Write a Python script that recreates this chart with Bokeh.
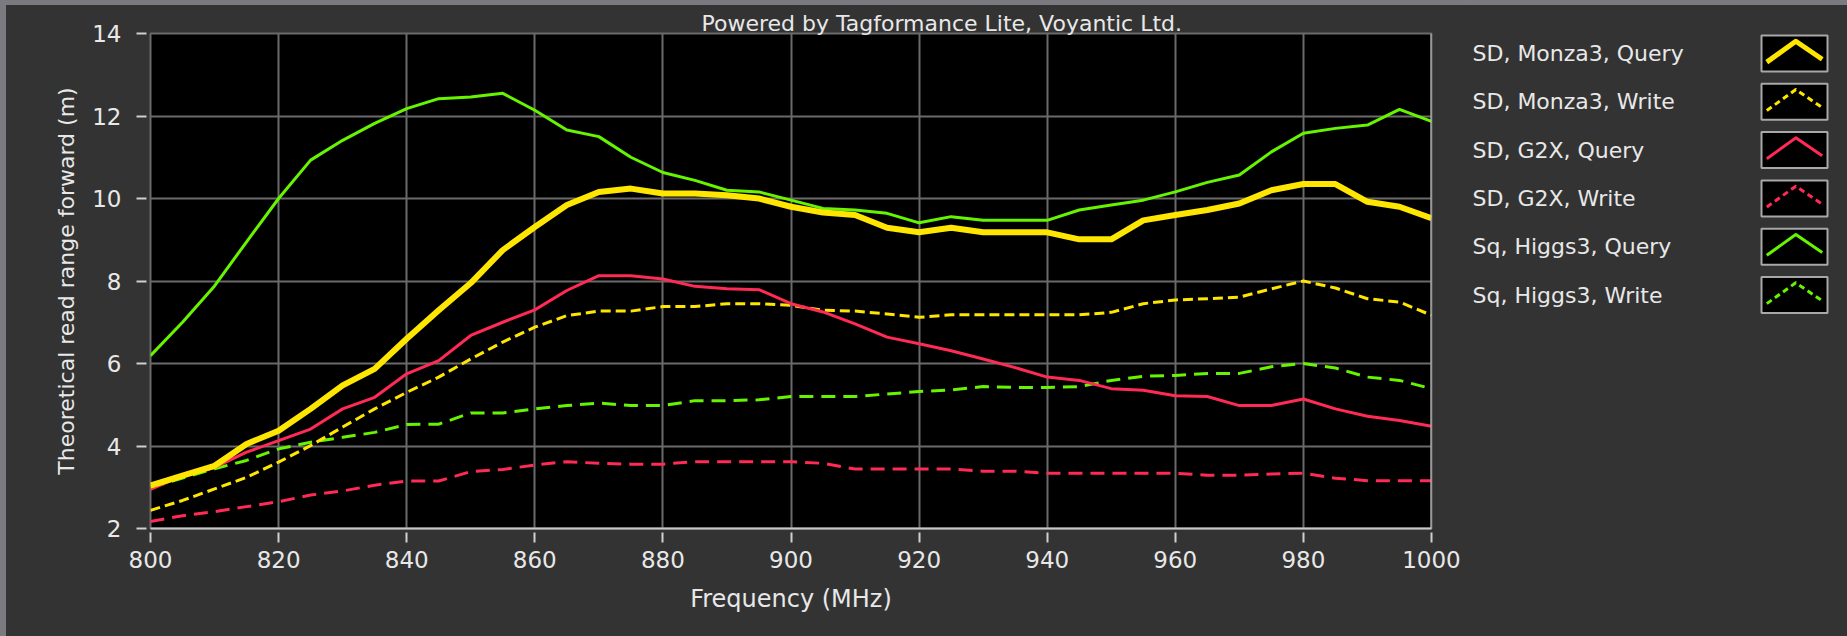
from bokeh.plotting import figure
from bokeh.models import Range1d, SingleIntervalTicker, Span, Title
from bokeh.layouts import row
from bokeh.core.properties import value
from bokeh.embed import file_html
from bokeh.resources import INLINE

# ---------------- data ----------------
freq = [800, 805, 810, 815, 820, 825, 830, 835, 840, 845,
        850, 855, 860, 865, 870, 875, 880, 885, 890, 895,
        900, 905, 910, 915, 920, 925, 930, 935, 940, 945,
        950, 955, 960, 965, 970, 975, 980, 985, 990, 995, 1000]

monza3_query = [3.04, 3.28, 3.52, 4.05, 4.37, 4.90, 5.47, 5.87, 6.60, 7.29,
                7.95, 8.75, 9.31, 9.84, 10.16, 10.24, 10.12, 10.12, 10.08, 10.00,
                9.80, 9.66, 9.60, 9.29, 9.18, 9.29, 9.18, 9.18, 9.18, 9.01,
                9.01, 9.47, 9.60, 9.72, 9.88, 10.20, 10.35, 10.35, 9.92, 9.80, 9.52]

monza3_write = [2.44, 2.68, 2.96, 3.24, 3.61, 4.01, 4.46, 4.90, 5.30, 5.67,
                6.11, 6.52, 6.88, 7.16, 7.27, 7.27, 7.38, 7.38, 7.45, 7.45,
                7.41, 7.29, 7.27, 7.20, 7.12, 7.18, 7.18, 7.18, 7.18, 7.18,
                7.24, 7.45, 7.54, 7.57, 7.61, 7.81, 8.00, 7.83, 7.57, 7.49, 7.17]

g2x_query = [2.95, 3.28, 3.48, 3.85, 4.13, 4.41, 4.90, 5.18, 5.75, 6.07,
             6.68, 7.00, 7.30, 7.77, 8.13, 8.13, 8.05, 7.87, 7.81, 7.79,
             7.45, 7.25, 6.96, 6.64, 6.48, 6.31, 6.11, 5.90, 5.67, 5.59,
             5.39, 5.35, 5.22, 5.20, 4.98, 4.98, 5.14, 4.90, 4.72, 4.62, 4.48]

g2x_write = [2.17, 2.31, 2.41, 2.53, 2.65, 2.81, 2.91, 3.05, 3.15, 3.15,
             3.38, 3.43, 3.54, 3.62, 3.58, 3.56, 3.56, 3.62, 3.62, 3.62,
             3.62, 3.58, 3.44, 3.44, 3.44, 3.44, 3.39, 3.39, 3.34, 3.34,
             3.34, 3.34, 3.34, 3.29, 3.29, 3.32, 3.34, 3.22, 3.16, 3.16, 3.16]

higgs3_query = [6.19, 7.00, 7.88, 8.95, 10.00, 10.93, 11.41, 11.82, 12.18, 12.42,
                12.46, 12.55, 12.14, 11.66, 11.50, 11.00, 10.63, 10.44, 10.20, 10.16,
                9.96, 9.76, 9.72, 9.64, 9.41, 9.56, 9.47, 9.47, 9.47, 9.72,
                9.84, 9.96, 10.16, 10.39, 10.57, 11.13, 11.58, 11.70, 11.78, 12.16, 11.87]

higgs3_write = [3.00, 3.22, 3.45, 3.65, 3.93, 4.09, 4.21, 4.33, 4.52, 4.53,
                4.80, 4.80, 4.90, 4.98, 5.04, 4.98, 4.98, 5.10, 5.10, 5.12,
                5.20, 5.20, 5.20, 5.26, 5.32, 5.36, 5.44, 5.42, 5.42, 5.44,
                5.59, 5.69, 5.71, 5.76, 5.76, 5.92, 6.00, 5.89, 5.67, 5.59, 5.39]

series_names = ["SD, Monza3, Query", "SD, Monza3, Write", "SD, G2X, Query",
                "SD, G2X, Write", "Sq, Higgs3, Query", "Sq, Higgs3, Write"]
series_values = [monza3_query, monza3_write, g2x_query, g2x_write, higgs3_query, higgs3_write]

# ---------------- styles ----------------
YELLOW = "#ffe600"
RED = "#ff2a55"
GREEN = "#66f400"
colors = [YELLOW, YELLOW, RED, RED, GREEN, GREEN]
widths = [6, 3, 3, 3, 3, 3]
dashes = ["solid", "10 5", "solid", "14 8", "solid", "14 8"]
legend_dashes = ["solid", "6 4", "solid", "6 4", "solid", "6 4"]
legend_widths = [5, 3, 3, 3, 3, 3]
draw_order = [3, 5, 1, 2, 4, 0]

BG = "#333333"
TXT = "#e8e8e8"
FONT = "DejaVu Sans"
CHROME = "#7a7a80"

W, H = 1847, 636
TOP_STRIP, LEFT_STRIP = 5, 6                   # window-chrome strips of the screenshot
FX0, FX1, FY0, FY1 = 150, 1431, 33, 528        # plot frame, page pixels
WM = 1465                                       # page x where the legend panel begins
HF = H - TOP_STRIP                              # figure height

p = figure(width=WM - LEFT_STRIP, height=HF, output_backend="svg", toolbar_location=None,
           x_range=Range1d(800, 1000), y_range=Range1d(2, 14),
           min_border_left=FX0 - LEFT_STRIP, min_border_right=WM - FX1,
           min_border_top=FY0 - TOP_STRIP, min_border_bottom=H - FY1,
           background_fill_color="black", border_fill_color=BG,
           outline_line_color="#6a6a6a", outline_line_width=2)

p.title = Title(text="Powered by Tagformance Lite, Voyantic Ltd.", align="left", offset=551,
                standoff=-4, text_font=FONT, text_font_size="22px", text_font_style="normal",
                text_color=TXT)

for i in draw_order:
    p.line(freq, series_values[i], line_color=colors[i], line_width=widths[i],
           line_dash=dashes[i], line_join="round")

p.xaxis.ticker = SingleIntervalTicker(interval=20, num_minor_ticks=0)
p.yaxis.ticker = SingleIntervalTicker(interval=2, num_minor_ticks=0)
for ax in (p.xaxis, p.yaxis):
    ax.major_tick_in = -4
    ax.major_tick_out = 14
    ax.major_tick_line_color = "#d0d0d0"
    ax.major_tick_line_width = 2
    ax.minor_tick_line_color = None
    ax.major_label_text_font = FONT
    ax.major_label_text_color = TXT
    ax.major_label_text_font_size = "23px"
    ax.axis_label_text_font = FONT
    ax.axis_label_text_color = TXT
    ax.axis_label_text_font_style = "normal"

p.xaxis.axis_label = "Frequency (MHz)"
p.xaxis.axis_label_text_font_size = "24px"
p.xaxis.major_label_standoff = 8
p.xaxis.axis_label_standoff = 14
p.xaxis.axis_line_color = "#c8c8c8"
p.xaxis.axis_line_width = 2

p.yaxis.axis_label = "Theoretical read range forward (m)"
p.yaxis.axis_label_text_font_size = "22px"
p.yaxis.major_label_standoff = 15
p.yaxis.axis_label_standoff = 10
p.yaxis.axis_line_color = None

p.grid.grid_line_color = "#6a6a6a"
p.grid.grid_line_width = 2

p.add_layout(Span(location=1000, dimension="height", line_color="#c8c8c8", line_width=2))

# ---------------- legend panel (page pixel coordinates) ----------------
leg = figure(width=W - WM, height=HF, output_backend="svg", toolbar_location=None,
             x_range=Range1d(WM, W), y_range=Range1d(FY1, FY0),
             x_axis_type=None, y_axis_type=None,
             min_border_left=0, min_border_right=0,
             min_border_top=FY0 - TOP_STRIP, min_border_bottom=H - FY1,
             background_fill_color=BG, border_fill_color=BG,
             outline_line_color=BG, outline_line_width=3)
leg.grid.visible = False

ROW0, PITCH = 53, 48.3
TEXT_X = 1472
BOX_X0, BOX_W, BOX_H = 1761, 66, 36
n = len(series_names)
ys = [ROW0 + k * PITCH for k in range(n)]

leg.text(x=[TEXT_X] * n, y=ys, text=series_names,
         text_baseline="middle", text_align="left",
         text_font=value(FONT), text_font_size="22px", text_color=TXT)
leg.rect(x=[BOX_X0 + BOX_W / 2] * n, y=ys, width=BOX_W, height=BOX_H,
         fill_color="black", line_color="#a8a8a8", line_width=2)
for k, yc in enumerate(ys):
    top = yc - BOX_H / 2
    leg.line([BOX_X0 + 0.08 * BOX_W, BOX_X0 + 0.52 * BOX_W, BOX_X0 + 0.92 * BOX_W],
             [top + 0.74 * BOX_H, top + 0.16 * BOX_H, top + 0.66 * BOX_H],
             line_color=colors[k], line_width=legend_widths[k],
             line_dash=legend_dashes[k], line_join="round")

layout = row(p, leg, styles={"background-color": BG,
                             "border-top": f"{TOP_STRIP}px solid {CHROME}",
                             "border-left": f"{LEFT_STRIP}px solid {CHROME}"})
open("out.html", "w").write(file_html(layout, INLINE))
